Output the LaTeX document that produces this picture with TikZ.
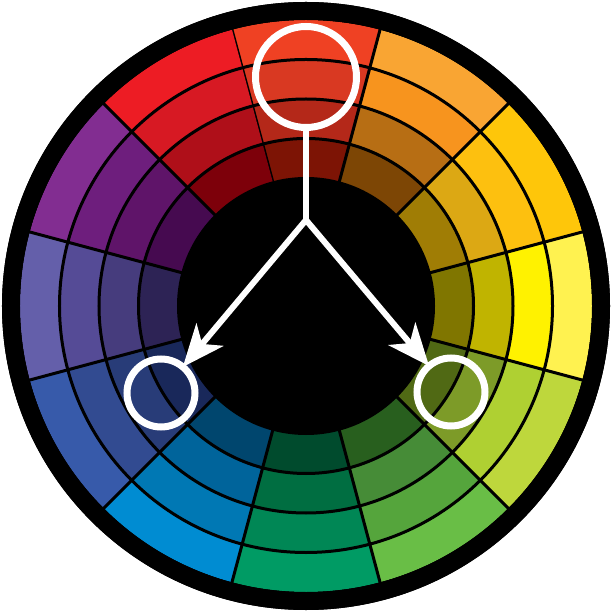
\documentclass[tikz,border=0pt]{standalone}
\usetikzlibrary{arrows.meta}
\begin{document}
\begin{tikzpicture}[x=1pt,y=1pt,
  sepline/.style={black,line width=3pt},
  marker/.style={circle,draw=white,line width=7pt,inner sep=0pt,outer sep=0pt},
  pointer/.style={white,line width=6pt,line join=miter},
  twoheads/.style={{Stealth[length=42pt,width=35pt,inset=12pt]}-{Stealth[length=42pt,width=35pt,inset=12pt]}}]
\useasboundingbox (-306,-306) rectangle (306,306);
% outer black disk
\fill[black] (0,0) circle (304);
% sectors: i=0 top, clockwise; colours outer -> inner
\foreach \i/\ca/\cb/\cc/\cd in {
  0/EF4123/D93922/B42819/7D1405,
  1/F9A533/F7941E/B76E14/7D4605,
  2/FEC60A/FDC00F/DCA814/A07D05,
  3/FFF250/FFF200/C0B400/807600,
  4/BED73C/AFD032/7D9B28/506914,
  5/69BE46/55A53C/468C37/285F1E,
  6/009B64/008755/006E41/004B2D,
  7/008CD2/0078B4/00649B/00466E,
  8/375AAA/324B91/283C78/19285A,
  9/645FAA/554B96/463C7D/2D2355,
  10/822D91/6E1E7D/5F1469/460A50,
  11/ED1C24/D71923/AF0F19/7D000A}{
  \pgfmathsetmacro\aa{105-30*\i}
  \pgfmathsetmacro\ab{75-30*\i}
  \definecolor{ra}{HTML}{\ca}
  \definecolor{rb}{HTML}{\cb}
  \definecolor{rc}{HTML}{\cc}
  \definecolor{rd}{HTML}{\cd}
  \fill[ra] (\aa:286) arc[start angle=\aa,end angle=\ab,radius=286] -- (\ab:246.5) arc[start angle=\ab,end angle=\aa,radius=246.5] -- cycle;
  \fill[rb] (\aa:246.5) arc[start angle=\aa,end angle=\ab,radius=246.5] -- (\ab:207) arc[start angle=\ab,end angle=\aa,radius=207] -- cycle;
  \fill[rc] (\aa:207) arc[start angle=\aa,end angle=\ab,radius=207] -- (\ab:167.5) arc[start angle=\ab,end angle=\aa,radius=167.5] -- cycle;
  \fill[rd] (\aa:167.5) arc[start angle=\aa,end angle=\ab,radius=167.5] -- (\ab:126) arc[start angle=\ab,end angle=\aa,radius=126] -- cycle;
  \draw[sepline] (\aa:126) -- (\aa:288);
}
\foreach \r in {167.5,207,246.5}{\draw[sepline] (0,0) circle (\r);}
% black border and centre
\draw[black,line width=18pt] (0,0) circle (295);
\fill[black] (0,0) circle (129);
% markers
\node[marker,minimum size=101pt] (top) at (0,229) {};
\node[marker,minimum size=68pt] (lc) at (-145,-87) {};
\node[marker,minimum size=68pt] (rc) at (145,-86) {};
\coordinate (j) at (0,86);
\draw[pointer] (top) -- (j);
\draw[pointer,twoheads] (lc) -- (j) -- (rc);
\end{tikzpicture}
\end{document}
